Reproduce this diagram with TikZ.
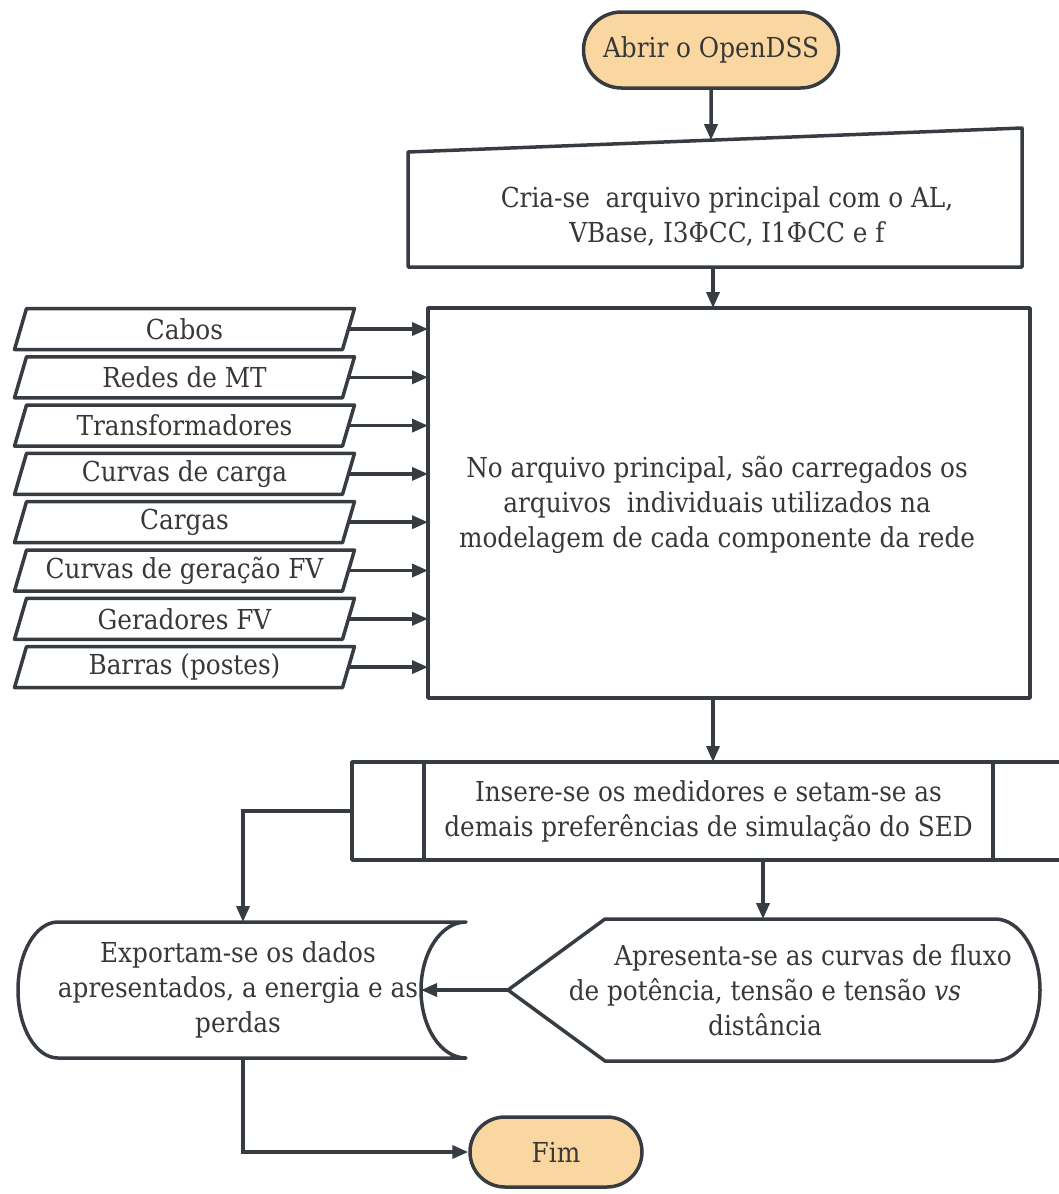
\documentclass[tikz,border=0pt]{standalone}
\usepackage{fontspec}
\setmainfont{DejaVu Serif Condensed}
\usetikzlibrary{shapes.misc,arrows.meta,calc}
\definecolor{ln}{HTML}{373C42}
\definecolor{tx}{HTML}{383838}
\definecolor{termc}{HTML}{FAD6A0}
\pgfdeclarelayer{bg}
\pgfsetlayers{bg,main}
\begin{document}
\begin{tikzpicture}[x=1pt,y=-1pt,
  every node/.style={font=\fontsize{27.5}{35}\selectfont, text=tx},
  term/.style={rounded rectangle, draw=ln, line width=3.5pt, fill=termc, inner sep=0pt},
  box/.style={inner sep=0pt, outer sep=0pt, align=center},
  outline/.style={draw=ln, line width=3.5pt, fill=white, line join=round},
  arr/.style={draw=ln, line width=3.5pt, -{Triangle[length=16pt,width=13pt]}},
]
\path[use as bounding box] (0,0) rectangle (1059,1194);
\clip (0,0) rectangle (1059,1194);

% start
\node[term, minimum width=255pt, minimum height=76pt] (start) at (711,50) {Abrir o OpenDSS};

% manual input
\node[box, minimum width=614pt, minimum height=139pt] (mi) at (715,197.5) {};
\node[box] (mit) at (727,216) {Cria-se\ \ arquivo principal com o AL,\\VBase, I3ΦCC, I1ΦCC e f};
\begin{pgfonlayer}{bg}
\draw[outline] (mi.south west) -- (mi.south east) -- (mi.north east) -- ([yshift=-24pt]mi.north west) -- cycle;
\end{pgfonlayer}
\path ([yshift=-24pt]mi.north west) -- (mi.north east) coordinate[pos=0.4935] (mi-in);

% main process
\node[box, minimum width=602pt, minimum height=390pt] (main) at (729,503) {};
\node[box] (maint) at (717,505) {No arquivo principal, são carregados os\\arquivos\ \ individuais utilizados na\\modelagem de cada componente da rede};
\begin{pgfonlayer}{bg}
\draw[outline] (main.north west) rectangle (main.south east);
\end{pgfonlayer}

% inputs
\foreach \i/\t in {1/Cabos,2/Redes de MT,3/Transformadores,4/Curvas de carga,5/Cargas,6/Curvas de geração FV,7/Geradores FV,8/Barras (postes)}{
  \node[box, minimum width=328pt, minimum height=41pt] (p\i) at (184.5,{329+48.3*(\i-1)}) {\t};
  \begin{pgfonlayer}{bg}
  \draw[outline] ([xshift=6pt]p\i.north west) -- ([xshift=6pt]p\i.north east) -- ([xshift=-6pt]p\i.south east) -- ([xshift=-6pt]p\i.south west) -- cycle;
  \end{pgfonlayer}
  \draw[arr] (p\i.east) -- (p\i.east -| main.west);
}

% predefined process
\node[box, minimum width=713pt, minimum height=98pt] (pp) at (708.5,811) {Insere-se os medidores e setam-se as\\demais preferências de simulação do SED};
\begin{pgfonlayer}{bg}
\draw[outline] (pp.north west) rectangle (pp.south east);
\draw[draw=ln, line width=3.5pt] ([xshift=72pt]pp.north west) -- ([xshift=72pt]pp.south west);
\draw[draw=ln, line width=3.5pt] ([xshift=641pt]pp.north west) -- ([xshift=641pt]pp.south west);
\end{pgfonlayer}

% display
\node[box, minimum width=532pt, minimum height=142pt] (disp) at (774,990) {};
\node[box] (dispt) at (765,990) {\hspace*{96pt}Apresenta-se as curvas de fluxo\\de potência, tensão e tensão \textit{vs}\hspace*{24pt}\\distância};
\begin{pgfonlayer}{bg}
\draw[outline] (disp.west) -- ([xshift=97pt]disp.north west) -- ([xshift=-45pt]disp.north east)
  arc[start angle=-90,end angle=90,x radius=45,y radius=71]
  -- ([xshift=97pt]disp.south west) -- cycle;
\end{pgfonlayer}

% stored data
\node[box, minimum width=446pt, minimum height=136pt] (sto) at (243,990) {};
\node[box] (stot) at (238,990) {Exportam-se os dados\\apresentados, a energia e as\\perdas};
\begin{pgfonlayer}{bg}
\draw[outline] ([xshift=38pt]sto.north west) -- (sto.north east)
  arc[start angle=-90,end angle=-270,x radius=45,y radius=68]
  -- ([xshift=38pt]sto.south west)
  arc[start angle=90,end angle=270,x radius=40,y radius=68] -- cycle;
\end{pgfonlayer}
\coordinate (sto-in) at ([xshift=-45pt]sto.east);

% end
\node[term, minimum width=172pt, minimum height=70pt] (fim) at (556,1152) {Fim};

% connectors
\draw[arr] (start.south) -- (mi-in);
\draw[arr] ([xshift=-2pt]mi.south) -- ([xshift=-2pt]mi.south |- main.north);
\draw[arr] ([xshift=-16pt]main.south) -- ([xshift=-16pt]main.south |- pp.north);
\draw[arr] ([xshift=-11pt]disp.north |- pp.south) -- ([xshift=-11pt]disp.north);
\draw[arr] (pp.west) -| (sto.north);
\draw[arr] (disp.west) -- (sto-in);
\draw[arr] (sto.south) |- (fim.west);
\end{tikzpicture}
\end{document}
